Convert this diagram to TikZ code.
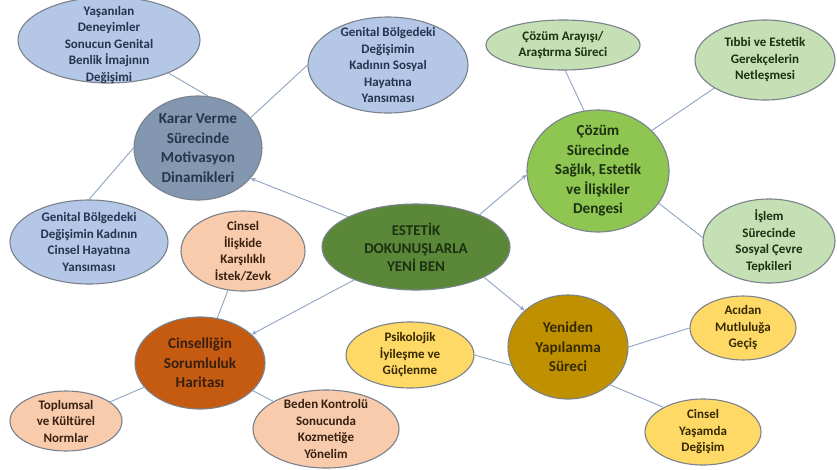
\documentclass[tikz,border=0pt]{standalone}
\usepackage{fontspec}
\setmainfont{Carlito}
\usetikzlibrary{shapes.geometric,arrows.meta}
\definecolor{lblue}{HTML}{B4C7E7}
\definecolor{kblue}{HTML}{8497B0}
\definecolor{mgreen}{HTML}{5A8838}
\definecolor{cgreen}{HTML}{8FC551}
\definecolor{lgreen}{HTML}{C5E0B4}
\definecolor{dorange}{HTML}{C55A11}
\definecolor{peach}{HTML}{F8CBAD}
\definecolor{dgold}{HTML}{BF9000}
\definecolor{lyellow}{HTML}{FFD966}
\definecolor{bord}{HTML}{7A828C}
\definecolor{linec}{HTML}{8FA4C2}
\definecolor{tblue}{HTML}{26344D}
\definecolor{tgreen}{HTML}{1C3012}
\definecolor{tbrown}{HTML}{382010}
\definecolor{tgold}{HTML}{362900}
\begin{document}
\begin{tikzpicture}[x=1pt,y=-1pt,
  bub/.style={ellipse, draw=bord, line width=1.1pt, inner sep=0pt},
  lbl/.style={align=center, inner sep=0pt, font=\bfseries\fontsize{13}{16.5}\selectfont},
  big/.style={lbl, font=\bfseries\fontsize{15.2}{19.5}\selectfont},
  link/.style={draw=linec, line width=0.9pt},
  arr/.style={link, -{Stealth[length=5pt,width=4.5pt]}}]
\useasboundingbox (0,0) rectangle (837,469);
\fill[white] (0,0) rectangle (837,469);

% central
\node[bub, fill=mgreen, minimum width=188pt, minimum height=86pt,
  label={[big,name=maint,text=tgreen,font=\bfseries\fontsize{15}{18}\selectfont]center:ESTETİK\\DOKUNUŞLARLA\\YENİ BEN}] (main) at (416,247) {};

% blue group
\node[bub, fill=kblue, minimum width=128pt, minimum height=104pt,
  label={[big,name=kart,text=tblue]center:Karar Verme\\Sürecinde\\Motivasyon\\Dinamikleri}] (kar) at (198,148) {};
\node[bub, fill=lblue, minimum width=182pt, minimum height=86pt,
  label={[lbl,name=yast,text=tblue,yshift=-5pt]center:Yaşanılan\\Deneyimler\\Sonucun Genital\\Benlik İmajının\\Değişimi}] (yas) at (109,40) {};
\node[bub, fill=lblue, minimum width=160pt, minimum height=96pt,
  label={[lbl,name=gst,text=tblue]center:Genital Bölgedeki\\Değişimin\\Kadının Sosyal\\Hayatına\\Yansıması}] (gs) at (388,65) {};
\node[bub, fill=lblue, minimum width=158pt, minimum height=84pt,
  label={[lbl,name=gct,text=tblue]center:Genital Bölgedeki\\Değişimin Kadının\\Cinsel Hayatına\\Yansıması}] (gc) at (89,242) {};

% green group
\node[bub, fill=cgreen, minimum width=142pt, minimum height=122pt,
  label={[big,name=czt,text=tgreen]center:Çözüm\\Sürecinde\\Sağlık, Estetik\\ve İlişkiler\\Dengesi}] (cz) at (598,171) {};
\node[bub, fill=lgreen, minimum width=154pt, minimum height=50pt,
  label={[lbl,name=cat,text=tgreen]center:Çözüm Arayışı/\\Araştırma Süreci}] (ca) at (563,45) {};
\node[bub, fill=lgreen, minimum width=140pt, minimum height=80pt,
  label={[lbl,name=tbt,text=tgreen]center:Tıbbi ve Estetik\\Gerekçelerin\\Netleşmesi}] (tb) at (765,60) {};
\node[bub, fill=lgreen, minimum width=132pt, minimum height=84pt,
  label={[lbl,name=ist,text=tgreen]center:İşlem\\Sürecinde\\Sosyal Çevre\\Tepkileri}] (is) at (769,241) {};

% orange group
\node[bub, fill=dorange, minimum width=130pt, minimum height=92pt,
  label={[big,name=cst,text=tbrown]center:Cinselliğin\\Sorumluluk\\Haritası}] (cs) at (200,363) {};
\node[bub, fill=peach, minimum width=124pt, minimum height=80pt,
  label={[lbl,name=cit,text=tbrown]center:Cinsel\\İlişkide\\Karşılıklı\\İstek/Zevk}] (ci) at (243,251) {};
\node[bub, fill=peach, minimum width=112pt, minimum height=60pt,
  label={[lbl,name=tot,text=tbrown]center:Toplumsal\\ve Kültürel\\Normlar}] (to) at (66,421) {};
\node[bub, fill=peach, minimum width=146pt, minimum height=78pt,
  label={[lbl,name=bet,text=tbrown]center:Beden Kontrolü\\Sonucunda\\Kozmetiğe\\Yönelim}] (be) at (326,429) {};

% gold group
\node[bub, fill=dgold, minimum width=120pt, minimum height=104pt,
  label={[big,name=yyt,text=tgold]center:Yeniden\\Yapılanma\\Süreci}] (yy) at (568,347) {};
\node[bub, fill=lyellow, minimum width=128pt, minimum height=66pt,
  label={[lbl,name=pst,text=tgold]center:Psikolojik\\İyileşme ve\\Güçlenme}] (ps) at (410,355) {};
\node[bub, fill=lyellow, minimum width=106pt, minimum height=64pt,
  label={[lbl,name=act,text=tgold]center:Acıdan\\Mutluluğa\\Geçiş}] (ac) at (743,328) {};
\node[bub, fill=lyellow, minimum width=116pt, minimum height=66pt,
  label={[lbl,name=cyt,text=tgold]center:Cinsel\\Yaşamda\\Değişim}] (cy) at (703,432) {};

% connectors
\draw[arr] (main.156) -- (kar.-30);
\draw[arr] (main.27) -- (cz.183);
\draw[arr] (main.-24) -- (yy.140);
\draw[arr] (main.208) -- (cs.29);
\draw[link] (yas.-29) -- (kar.79);
\draw[link] (kar.30) -- (gs.180);
\draw[link] (kar.180) -- (gc.90);
\draw[link] (ca.-85) -- (cz.103);
\draw[link] (cz.37) -- (tb.209);
\draw[link] (cz.-28) -- (is.177);
\draw[link] (ci) -- (cs);
\draw[link] (cs) -- (to);
\draw[link] (cs) -- (be);
\draw[link] (ps.east) -- (yy.198);
\draw[link] (yy.east) -- (ac.west);
\draw[link] (yy.-42) -- (cy.148);
\end{tikzpicture}
\end{document}
